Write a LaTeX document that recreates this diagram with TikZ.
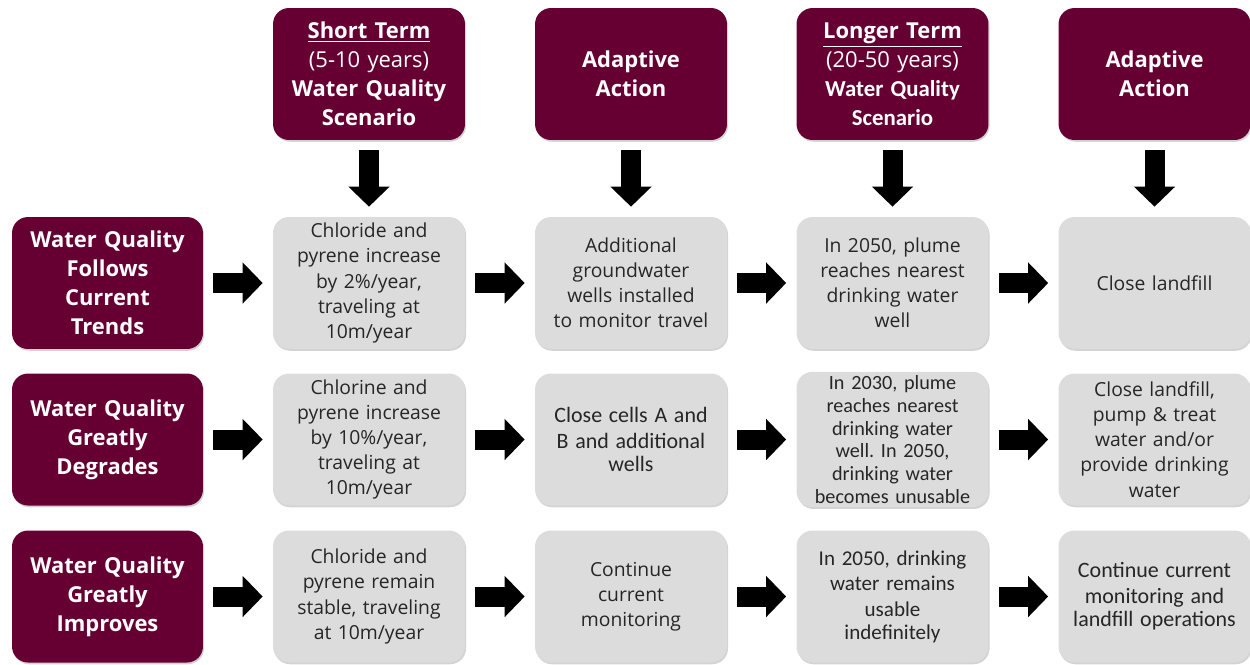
\documentclass[tikz,border=0pt]{standalone}
\usepackage{fontspec}
\setmainfont{Open Sans}
\newfontfamily\calfont{Carlito}
\usetikzlibrary{arrows.meta,shadows}
\definecolor{maroon}{HTML}{660033}
\definecolor{boxgray}{HTML}{DCDCDC}
\frenchspacing
\tikzset{
  base/.style={rounded corners=0.32cm, minimum height=2.64cm, align=center, inner sep=2pt,
    drop shadow={opacity=0.35, shadow xshift=0.6pt, shadow yshift=-1pt}},
  head/.style={base, fill=maroon, text=white, minimum width=3.84cm, text width=3.6cm,
    font=\bfseries\fontsize{12.5}{16.5}\selectfont},
  side/.style={base, fill=maroon, text=white, minimum width=3.82cm, text width=3.6cm,
    font=\bfseries\fontsize{12.5}{16.5}\selectfont},
  cell/.style={base, fill=boxgray, text=black!85, minimum width=3.84cm, text width=3.6cm,
    font=\fontsize{11}{14.3}\selectfont},
  calcell/.style={cell, font=\calfont\fontsize{11.5}{13}\selectfont},
  bigarrow/.style={line width=0.4cm, black, shorten <=0.2cm, shorten >=0.2cm,
    -{Triangle[width=0.8cm,length=0.4cm]}},
}
\begin{document}
\begin{tikzpicture}[x=0.02cm,y=-0.02cm]
\useasboundingbox (0,0) rectangle (1250,664);
% headers
\node[head] (h1) at (369,74) {\underline{Short Term}\\{\mdseries (5-10 years)}\\Water Quality\\Scenario};
\node[head] (h2) at (631,74) {Adaptive\\Action};
\node[head] (h3) at (892.5,74) {\underline{Longer Term}\\{\mdseries (20-50 years)}\\{\calfont\fontsize{13}{16.5}\selectfont Water Quality}\\{\calfont\fontsize{13}{16.5}\selectfont Scenario}};
\node[head] (h4) at (1154.5,74) {Adaptive\\Action};
% side labels
\node[side] (s1) at (107.5,283) {Water Quality\\Follows\\Current\\Trends};
\node[side] (s2) at (107.5,439.5) {Water Quality\\Greatly\\Degrades};
\node[side] (s3) at (107.5,596.5) {Water Quality\\Greatly\\Improves};
% row 1
\node[cell] (a1) at (369,283) {Chloride and\\pyrene increase\\by 2\%/year,\\traveling at\\10m/year};
\node[cell] (b1) at (631,283) {Additional\\groundwater\\wells installed\\to monitor travel};
\node[cell] (c1) at (892.5,283) {In 2050, plume\\reaches nearest\\drinking water\\well};
\node[cell] (d1) at (1154.5,283) {Close landfill};
% row 2
\node[cell] (a2) at (369,439.5) {Chlorine and\\pyrene increase\\by 10\%/year,\\traveling at\\10m/year};
\node[calcell] (b2) at (631,439.5) {\fontsize{12.5}{14.8}\selectfont Close cells A and\\B and additional\\wells};
\node[calcell] (c2) at (892.5,439.5) {In 2030, plume\\reaches nearest\\drinking water\\well. In 2050,\\drinking water\\becomes unusable};
\node[cell] (d2) at (1154.5,439.5) {Close landfill,\\pump \& treat\\water and/or\\provide drinking\\water};
% row 3
\node[cell] (a3) at (369,596.5) {Chloride and\\pyrene remain\\stable, traveling\\at 10m/year};
\node[cell] (b3) at (631,596.5) {Continue\\current\\monitoring};
\node[calcell] (c3) at (892.5,596.5) {\fontsize{12}{14.5}\selectfont In 2050, drinking\\water remains\\usable\\indefinitely};
\node[calcell] (d3) at (1154.5,596.5) {\fontsize{12.5}{14.8}\selectfont Continue current\\monitoring and\\landfill operations};
% down arrows
\draw[bigarrow] (h1) -- (a1);
\draw[bigarrow] (h2) -- (b1);
\draw[bigarrow] (h3) -- (c1);
\draw[bigarrow] (h4) -- (d1);
% right arrows
\foreach \r in {1,2,3}{
  \draw[bigarrow] (s\r) -- (a\r);
  \draw[bigarrow] (a\r) -- (b\r);
  \draw[bigarrow] (b\r) -- (c\r);
  \draw[bigarrow] (c\r) -- (d\r);
}
\end{tikzpicture}
\end{document}
